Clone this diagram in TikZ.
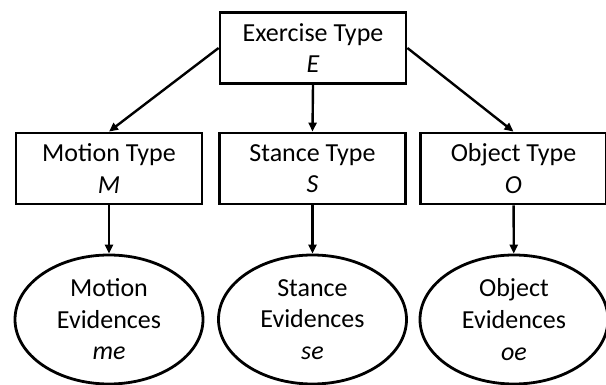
\documentclass[tikz,border=0pt]{standalone}
\usepackage{fontspec}
\setmainfont{Carlito}
\usetikzlibrary{shapes.geometric, arrows.meta}

\tikzset{
	typbox/.style={draw, line width=2.8pt, minimum width=186pt, minimum height=71pt, inner sep=0pt, align=center},
	evidenz/.style={draw, ellipse, line width=2.8pt, minimum width=188pt, minimum height=129pt, inner sep=0pt, align=center},
	pfeil/.style={-{Triangle[length=9pt, width=8pt]}, line width=2.4pt}
}

\begin{document}
\begin{tikzpicture}[x=1pt, y=1pt, font=\fontsize{26pt}{31.6pt}\selectfont]
	\useasboundingbox (0,0) rectangle (606,385); % Rand wie im Original
	
	\node[typbox] (E) at (313,337) {Exercise Type\\ \textit{E}};
	
	\node[typbox] (M) at (109,216.5) {Motion Type\\ \textit{M}};
	\node[typbox] (S) at (312.5,216.5) {Stance Type\\ \textit{S}};
	\node[typbox] (O) at (513.5,216.5) {Object Type\\ \textit{O}};
	
	\node[evidenz] (me) at (109,65.5) {Motion\\ Evidences\\ \textit{me}};
	\node[evidenz] (se) at (312.5,65.5) {Stance\\ Evidences\\ \textit{se}};
	\node[evidenz] (oe) at (514,65.5) {Object\\ Evidences\\ \textit{oe}};
	
	\draw[pfeil] (E.west) -- (M.north);
	\draw[pfeil] (E.south) -- (S.north);
	\draw[pfeil] (E.east) -- (O.north);
	
	\draw[pfeil] (M) -- (me);
	\draw[pfeil] (S) -- (se);
	\draw[pfeil] (O) -- (oe);
	
	%\draw[help lines, step=20] (0,0) grid (606,385);
\end{tikzpicture}
\end{document}
